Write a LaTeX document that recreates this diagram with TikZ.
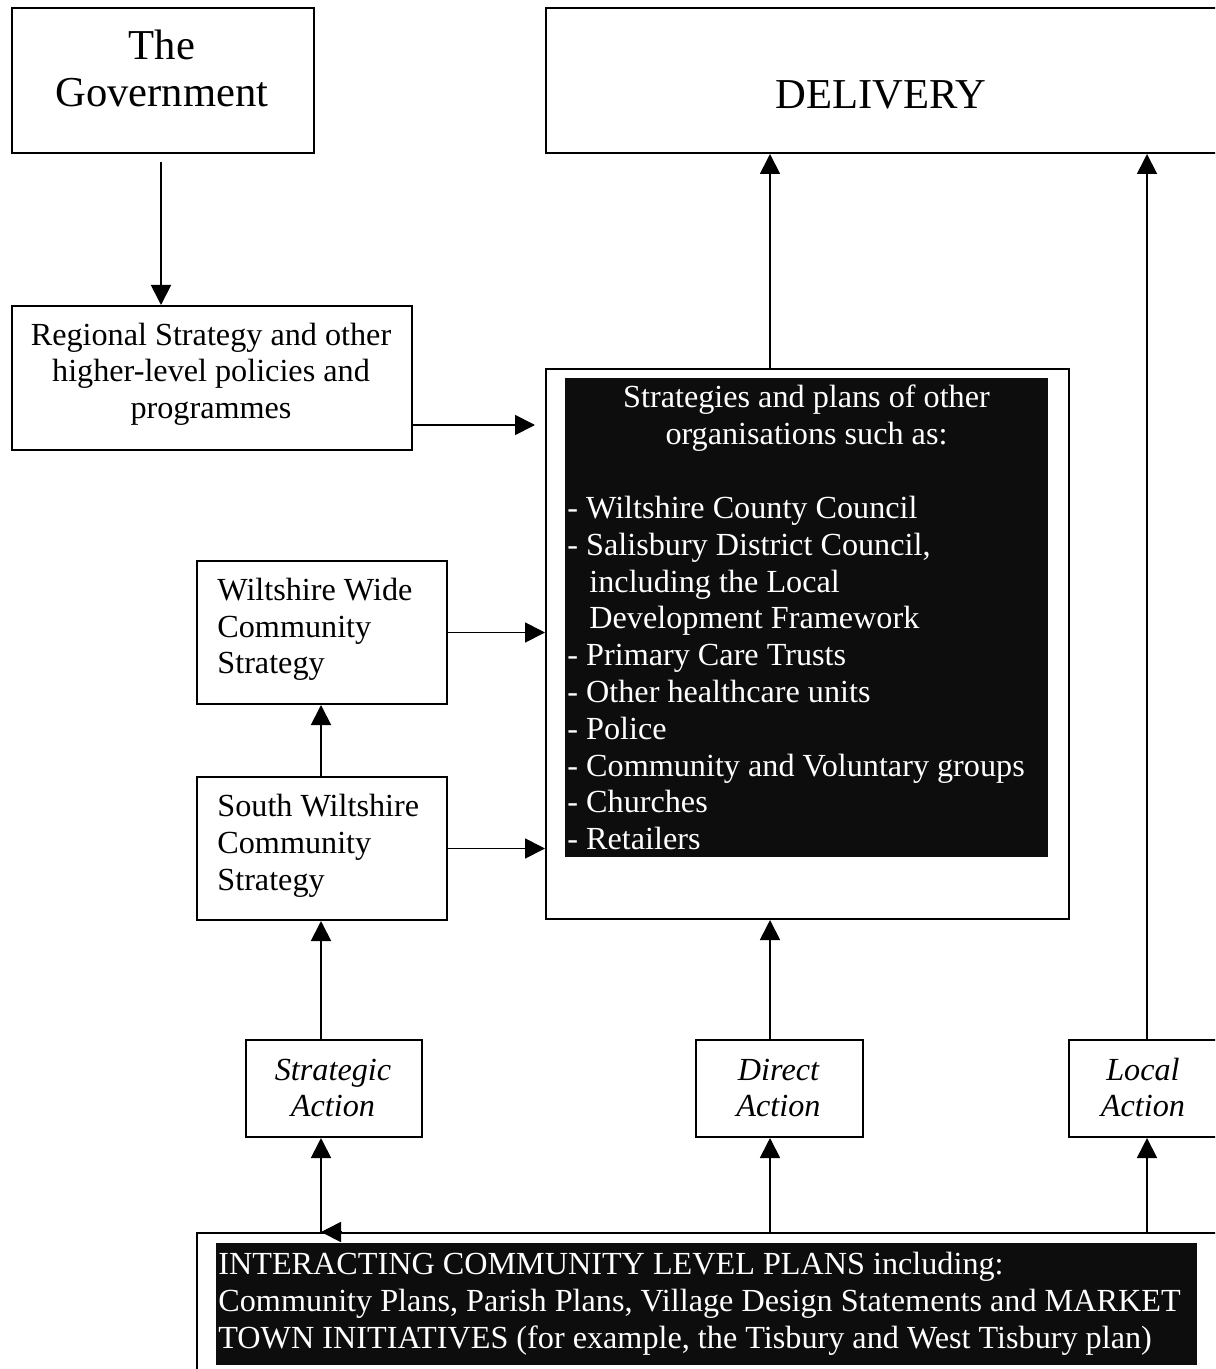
\documentclass[tikz,border=0pt]{standalone}
\usepackage{fontspec}
\setmainfont{Liberation Serif}
\usetikzlibrary{arrows.meta}
\definecolor{blkc}{RGB}{13,13,13}
\newcommand\bodyf{\fontsize{16.1}{18.4}\selectfont}
\newcommand\bigf{\fontsize{21.3}{23.5}\selectfont}
\tikzset{
  box/.style={draw, line width=1pt, inner sep=0pt, anchor=north west},
  blk/.style={fill=blkc, inner sep=0pt, anchor=north west},
  arr/.style={line width=0.9pt, -{Triangle[length=10pt,width=10pt]}},
  bigt/.style={inner sep=0pt, anchor=base, font=\bigf},
  ct/.style={inner sep=0pt, anchor=base, font=\bodyf},
  lt/.style={inner sep=0pt, anchor=base west, font=\bodyf},
  it/.style={inner sep=0pt, anchor=base, font=\bodyf\itshape},
  wt/.style={text=white}
}
\begin{document}
\begin{tikzpicture}[x=0.5pt,y=-0.5pt]
\useasboundingbox (0,0) rectangle (1215,1369);
\clip (0,0) rectangle (1215,1369);
% boxes
\node[box, minimum width=151pt, minimum height=72.5pt] (gov) at (11,7) {};
\node[box, minimum width=336pt, minimum height=72.5pt] (deliv) at (545,7) {};
\node[box, minimum width=200pt, minimum height=72pt] (reg) at (11,305) {};
\node[box, minimum width=261.5pt, minimum height=275pt] (big) at (545,368) {};
\node[blk, minimum width=241.5pt, minimum height=239.5pt] (bigblk) at (565,378) {};
\node[box, minimum width=125pt, minimum height=71.5pt] (ww) at (196,560) {};
\node[box, minimum width=125pt, minimum height=71.5pt] (sw) at (196,776) {};
\node[box, minimum width=88pt, minimum height=48.5pt] (sa) at (245,1039) {};
\node[box, minimum width=83.5pt, minimum height=48.5pt] (da) at (695,1039) {};
\node[box, minimum width=75pt, minimum height=48.5pt] (la) at (1068,1039) {};
\node[box, minimum width=510.5pt, minimum height=100pt] (bot) at (196,1232) {};
\node[blk, minimum width=490.5pt, minimum height=61pt] (botblk) at (216,1243) {};
% texts
\node[bigt] (govt1) at (162,60) {The};
\node[bigt] (govt2) at (162,107) {Government};
\node[bigt] (delt) at (881,109) {DELIVERY};
\node[ct] (regt1) at (211,345) {Regional Strategy and other};
\node[ct] (regt2) at (211,381.8) {higher-level policies and};
\node[ct] (regt3) at (211,418.6) {programmes};
\node[lt] (wwt1) at (217,600) {Wiltshire Wide};
\node[lt] (wwt2) at (217,637) {Community};
\node[lt] (wwt3) at (217,673) {Strategy};
\node[lt] (swt1) at (217,816) {South Wiltshire};
\node[lt] (swt2) at (217,853) {Community};
\node[lt] (swt3) at (217,890) {Strategy};
\node[it] (sat1) at (333,1080) {Strategic};
\node[it] (sat2) at (333,1116) {Action};
\node[it] (dat1) at (778.5,1080) {Direct};
\node[it] (dat2) at (778.5,1116) {Action};
\node[it] (lat1) at (1143,1080) {Local};
\node[it] (lat2) at (1143,1116) {Action};
\node[ct, wt] (b1) at (806.5,408) {Strategies and plans of other};
\node[ct, wt] (b2) at (806.5,444.8) {organisations such as:};
\node[lt, wt] (b4) at (567,518.4) {- Wiltshire County Council};
\node[lt, wt] (b5) at (567,555.2) {- Salisbury District Council,};
\node[lt, wt] (b6) at (589,592) {including the Local};
\node[lt, wt] (b7) at (589,628.8) {Development Framework};
\node[lt, wt] (b8) at (567,665.6) {- Primary Care Trusts};
\node[lt, wt] (b9) at (567,702.4) {- Other healthcare units};
\node[lt, wt] (b10) at (567,739.2) {- Police};
\node[lt, wt] (b11) at (567,776) {- Community and Voluntary groups};
\node[lt, wt] (b12) at (567,812.8) {- Churches};
\node[lt, wt] (b13) at (567,849.6) {- Retailers};
\node[lt, wt] (bt1) at (218,1274) {INTERACTING COMMUNITY LEVEL PLANS including:};
\node[lt, wt] (bt2) at (218,1311) {Community Plans, Parish Plans, Village Design Statements and MARKET};
\node[lt, wt] (bt3) at (218,1348) {TOWN INITIATIVES (for example, the Tisbury and West Tisbury plan)};
% connector x/y positions
\coordinate (xg) at (161,0);
\coordinate (xl) at (321,0);
\coordinate (xm) at (770,0);
\coordinate (xr) at (1147,0);
\coordinate (ya) at (0,425);
% connectors
\draw[arr] ([yshift=-4pt]gov.south -| xg) -- (reg.north -| xg);
\draw[arr] (reg.east |- ya) -- ([xshift=-5pt]big.west |- ya);
\draw[arr] (ww.east) -- (big.west |- ww.east);
\draw[arr] (sw.east) -- (big.west |- sw.east);
\draw[arr] (big.north -| xm) -- (deliv.south -| xm);
\draw[arr] (la.north -| xr) -- (deliv.south -| xr);
\draw[arr] (sw.north -| xl) -- (ww.south -| xl);
\draw[arr] (sa.north -| xl) -- (sw.south -| xl);
\draw[arr] (da.north -| xm) -- (big.south -| xm);
\draw[arr] (bot.north -| xl) -- (sa.south -| xl);
\draw[arr] (bot.north -| xm) -- (da.south -| xm);
\draw[arr] (bot.north -| xr) -- (la.south -| xr);
\draw[arr] ([xshift=10pt]bot.north -| xl) -- (bot.north -| xl);
\end{tikzpicture}
\end{document}
